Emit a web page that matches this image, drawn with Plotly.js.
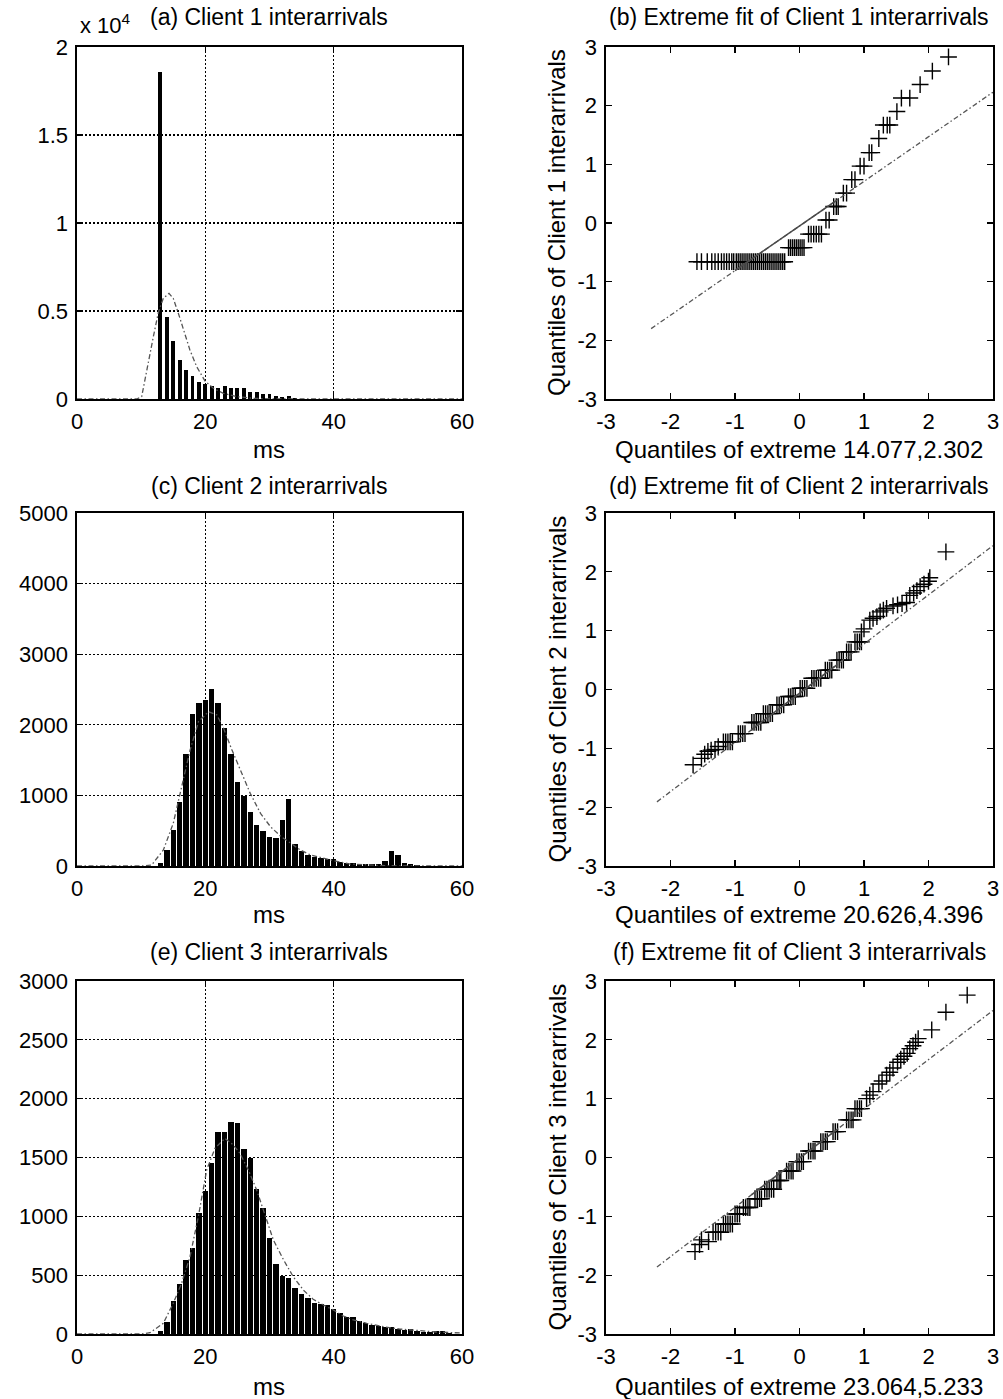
<!DOCTYPE html>
<html><head><meta charset="utf-8">
<script src="https://cdn.plot.ly/plotly-3.0.1.min.js"></script>
<style>html,body{margin:0;padding:0;background:#fff}#chart{width:1003px;height:1399px}</style>
</head><body><div id="chart"></div>
<script>
// ---------- (a) Client 1 histogram ----------
const binsA   = [13,14,15,16,17,18,19,20,21,22,23,24,25,26,27,28,29,30,31,32,33,34];
const countsA = [18580,4640,3313,2197,1648,1307,947,833,739,644,739,625,625,625,379,379,265,265,170,130,150,80];
const fitA_x  = [0,5,9.3,10.08,10.86,11.9,12.67,13.45,14.34,15.0,15.8,16.57,17.6,18.65,19.95,21.25,22.8,24.9,27.5,30,40,50,60];
const fitA_y  = [0,0,0,133,1648,3540,4905,5720,6004,5720,4867,3920,2784,1837,1023,606,322,133,38,10,0,0,0];

// ---------- (c) Client 2 histogram ----------
const binsC   = [13,14,15,16,17,18,19,20,21,22,23,24,25,26,27,28,29,30,31,32,33,34,35,36,37,38,39,40,41,42,43,44,45,46,47,48,49,50,51,52,53];
const countsC = [45,220,517,908,1584,2146,2314,2358,2507,2314,1955,1582,1192,996,772,578,500,413,390,658,942,305,210,160,130,107,95,100,60,48,38,35,30,28,35,70,210,151,40,22,12];
const fitC_x  = [0,10,11.64,13.46,15.0,16.34,17.63,18.93,20.5,21.8,22.85,24.15,25.45,27.0,28.6,30.15,31.7,33.26,34.8,36.4,38.5,40.0,42.6,45.2,48,52,60];
const fitC_y  = [0,0,14,227,604,1124,1643,2044,2186,2139,1950,1643,1360,1029,746,557,425,321,227,156,109,75,28,14,5,0,0];

// ---------- (e) Client 3 histogram ----------
const binsE   = [13,14,15,16,17,18,19,20,21,22,23,24,25,26,27,28,29,30,31,32,33,34,35,36,37,38,39,40,41,42,43,44,45,46,47,48,49,50,51,52,53,54,55,56,57,58];
const countsE = [28,105,279,427,628,727,1030,1216,1450,1720,1720,1805,1790,1569,1500,1236,1067,812,597,494,480,394,341,302,260,255,250,212,176,142,142,110,91,76,71,57,57,42,34,40,25,17,17,28,28,8];
const fitE_x  = [0,10,11.38,13.45,15.0,16.3,17.61,18.91,20.21,21.5,23.06,24.36,25.4,26.7,28.0,29.3,30.6,32.2,33.7,35.27,36.8,38.4,39.95,41.5,43.07,45.15,47.74,50.34,52.94,56.06,60];
const fitE_y  = [0,0,11,91,261,431,657,997,1394,1578,1663,1606,1535,1394,1224,1011,799,629,487,374,295,246,204,153,119,91,62,42,28,17,8];

// ---------- (b) QQ Client 1 ----------
const qqB_x = [-1.59,-1.52,-1.43,-1.36,-1.31,-1.26,-1.21,-1.17,-1.13,-1.09,-1.05,-1.02,-0.98,-0.95,-0.92,-0.89,-0.86,-0.83,-0.80,-0.77,-0.74,-0.71,-0.68,-0.65,-0.62,-0.59,-0.56,-0.53,-0.50,-0.47,-0.44,-0.41,-0.38,-0.35,-0.32,-0.29,-0.26,-0.23,
  -0.17,-0.14,-0.11,-0.08,-0.05,-0.02,0.01,0.04,0.07,
  0.14,0.18,0.22,0.26,0.30,0.34,
  0.41,0.46,
  0.53,0.57,0.60,
  0.68,0.73,
  0.81,0.86,
  0.94,1.00,
  1.08,1.12,
  1.23,
  1.30,1.36,1.40,
  1.51,
  1.58,1.71,
  1.87,
  2.06,
  2.31];
const qqB_y = [-0.66,-0.66,-0.66,-0.66,-0.66,-0.66,-0.66,-0.66,-0.66,-0.66,-0.66,-0.66,-0.66,-0.66,-0.66,-0.66,-0.66,-0.66,-0.66,-0.66,-0.66,-0.66,-0.66,-0.66,-0.66,-0.66,-0.66,-0.66,-0.66,-0.66,-0.66,-0.66,-0.66,-0.66,-0.66,-0.66,-0.66,-0.66,
  -0.42,-0.42,-0.42,-0.42,-0.42,-0.42,-0.42,-0.42,-0.42,
  -0.19,-0.19,-0.19,-0.19,-0.19,-0.19,
  0.05,0.05,
  0.28,0.28,0.28,
  0.51,0.51,
  0.74,0.74,
  0.97,0.97,
  1.20,1.20,
  1.44,
  1.67,1.67,1.67,
  1.90,
  2.13,2.13,
  2.36,
  2.59,
  2.83];
const refB_x = [-2.30, 3.0];
const refB_y = [-1.80, 2.23];
const segB_x = [-1.0, 0.58];
const segB_y = [-0.81, 0.39];

// ---------- (d) QQ Client 2 ----------
const qqD_x = [-1.65,-1.52,-1.47,-1.42,-1.37,-1.31,-1.26,
  -1.18,-1.145,-1.11,-1.075,-1.04,
  -0.95,-0.915,-0.88,-0.845,
  -0.74,-0.705,-0.67,-0.635,-0.60,
  -0.56,-0.525,-0.49,-0.455,-0.42,
  -0.35,-0.315,-0.28,-0.245,
  -0.17,-0.135,-0.10,-0.065,
  0.01,0.045,0.08,0.115,
  0.19,0.225,0.26,0.295,0.33,
  0.40,0.435,0.47,0.50,
  0.58,0.615,0.65,0.68,
  0.73,0.765,0.80,
  0.86,0.895,0.93,0.96,
  0.96,1.00,1.09,1.14,1.20,1.25,1.30,1.35,1.45,1.52,1.59,1.66,1.71,1.77,1.82,1.87,1.93,2.00,2.02,2.27];
const qqD_y = [-1.28,-1.17,-1.10,-1.05,-1.03,-1.02,-0.97,
  -0.89,-0.89,-0.89,-0.89,-0.89,
  -0.75,-0.75,-0.75,-0.75,
  -0.56,-0.56,-0.56,-0.56,-0.56,
  -0.41,-0.41,-0.41,-0.41,-0.41,
  -0.26,-0.26,-0.26,-0.26,
  -0.12,-0.12,-0.12,-0.12,
  0.02,0.02,0.02,0.02,
  0.19,0.19,0.19,0.19,0.19,
  0.33,0.33,0.33,0.33,
  0.50,0.50,0.50,0.50,
  0.64,0.64,0.64,
  0.81,0.81,0.81,0.81,
  0.98,1.03,1.18,1.21,1.24,1.32,1.35,1.38,1.42,1.44,1.46,1.48,1.60,1.64,1.68,1.75,1.79,1.84,1.90,2.34];
const refD_x = [-2.21, 3.0];
const refD_y = [-1.91, 2.445];
const segD_x = [-0.74, 0.58];
const segD_y = [-0.68, 0.42];

// ---------- (f) QQ Client 3 ----------
const qqF_x = [-1.62,-1.55,-1.52,-1.41,
  -1.34,-1.30,-1.26,-1.22,
  -1.18,-1.145,-1.11,-1.075,-1.04,
  -1.00,-0.965,-0.93,
  -0.87,-0.835,-0.80,-0.77,
  -0.69,-0.655,-0.62,-0.59,
  -0.54,-0.505,-0.47,-0.435,-0.40,
  -0.35,-0.315,-0.29,
  -0.20,-0.165,-0.13,-0.10,
  -0.04,-0.005,0.03,0.06,
  0.14,0.175,0.21,0.24,
  0.33,0.365,0.40,0.43,
  0.52,0.555,0.59,
  0.73,0.765,0.80,0.83,
  0.86,0.895,0.93,0.96,
  1.04,1.09,1.14,1.23,1.28,1.35,1.40,1.45,1.52,1.57,1.62,1.67,1.71,1.76,1.80,1.84,2.05,2.27,2.60];
const qqF_y = [-1.60,-1.48,-1.40,-1.43,
  -1.27,-1.27,-1.27,-1.27,
  -1.13,-1.13,-1.13,-1.13,-1.13,
  -0.96,-0.96,-0.96,
  -0.85,-0.85,-0.85,-0.85,
  -0.70,-0.70,-0.70,-0.70,
  -0.54,-0.54,-0.54,-0.54,-0.54,
  -0.39,-0.39,-0.39,
  -0.23,-0.23,-0.23,-0.23,
  -0.07,-0.07,-0.07,-0.07,
  0.11,0.11,0.11,0.11,
  0.27,0.27,0.27,0.27,
  0.44,0.44,0.44,
  0.64,0.64,0.64,0.64,
  0.83,0.83,0.83,0.83,
  1.00,1.06,1.12,1.25,1.30,1.40,1.45,1.52,1.62,1.67,1.72,1.77,1.85,1.90,1.96,2.02,2.17,2.47,2.76];
const refF_x = [-2.21, 3.0];
const refF_y = [-1.86, 2.50];
const segF_x = [-0.74, 0.60];
const segF_y = [-0.63, 0.49];

// ---------- text ----------
const titles = ['(a) Client 1 interarrivals','(b) Extreme fit of Client 1 interarrivals',
                '(c) Client 2 interarrivals','(d) Extreme fit of Client 2 interarrivals',
                '(e) Client 3 interarrivals','(f) Extreme fit of Client 3 interarrivals'];
const xTitles = ['ms','Quantiles of extreme 14.077,2.302','ms','Quantiles of extreme 20.626,4.396','ms','Quantiles of extreme 23.064,5.233'];
const yTitlesQQ = ['Quantiles of Client 1 interarrivals','Quantiles of Client 2 interarrivals','Quantiles of Client 3 interarrivals'];
const tickValsA = [0,5000,10000,15000,20000];
const tickTextA = ['0','0.5','1','1.5','2'];
const qqTickVals = [-3,-2,-1,0,1,2,3];
const qqTickText = ['-3','-2','-1','0','1','2','3'];

// ---------- layout geometry ----------
const W = 1003, H = 1399;
const FONT = 'Liberation Sans, Arial, Helvetica, sans-serif';
const leftX = [77/W, 462/W], rightX = [606/W, 993/W];
const rows = [[47,399],[513,866],[981,1334]];
const yDom = r => [1 - rows[r][1]/H, 1 - rows[r][0]/H];

const fitLine = {color:'#555', width:1.3, dash:'5px,2.5px,1.5px,2.5px'};
const crossMarker = {symbol:'cross-thin-open', size:12, color:'#000', line:{color:'#000', width:1.4}};

function bars(x, y, w, xa, ya){ return {type:'bar', x:x, y:y, width:w, marker:{color:'#000', line:{width:0}}, xaxis:xa, yaxis:ya}; }
function curve(x, y, xa, ya){ return {type:'scatter', mode:'lines', x:x, y:y, line:fitLine, xaxis:xa, yaxis:ya}; }
function pts(x, y, xa, ya){ return {type:'scatter', mode:'markers', x:x, y:y, marker:crossMarker, xaxis:xa, yaxis:ya}; }
function seg(x, y, xa, ya){ return {type:'scatter', mode:'lines', x:x, y:y, line:{color:'#4a4a4a', width:1.6}, xaxis:xa, yaxis:ya}; }

const data = [
  bars(binsA, countsA, 0.62, 'x', 'y'), curve(fitA_x, fitA_y, 'x', 'y'),
  pts(qqB_x, qqB_y, 'x2', 'y2'), curve(refB_x, refB_y, 'x2', 'y2'), seg(segB_x, segB_y, 'x2', 'y2'),
  bars(binsC, countsC, 0.85, 'x3', 'y3'), curve(fitC_x, fitC_y, 'x3', 'y3'),
  pts(qqD_x, qqD_y, 'x4', 'y4'), curve(refD_x, refD_y, 'x4', 'y4'), seg(segD_x, segD_y, 'x4', 'y4'),
  bars(binsE, countsE, 0.85, 'x5', 'y5'), curve(fitE_x, fitE_y, 'x5', 'y5'),
  pts(qqF_x, qqF_y, 'x6', 'y6'), curve(refF_x, refF_y, 'x6', 'y6'), seg(segF_x, segF_y, 'x6', 'y6')
];

const tickFont = {family: FONT, size: 22, color: '#000'};
function ax(domain, anchor, range, extra){
  return Object.assign({
    domain: domain, anchor: anchor, range: range, autorange:false,
    showline:true, linecolor:'#000', linewidth:1.6, mirror:'ticks',
    ticks:'inside', ticklen:6, tickwidth:1.2, tickcolor:'#000',
    zeroline:false, showgrid:false, tickfont: tickFont, fixedrange:true,
    ticklabelstandoff: 2
  }, extra || {});
}
const grid = {showgrid:true, gridcolor:'#000', gridwidth:1.2, griddash:'2px,2px'};
const qqTicks = {tickvals: qqTickVals, ticktext: qqTickText};

const layout = {
  width: W, height: H, margin:{l:0,r:0,t:0,b:0}, showlegend:false,
  paper_bgcolor:'#fff', plot_bgcolor:'#fff', bargap:0,
  font:{family: FONT, color:'#000'},
  xaxis:  ax(leftX,  'y',  [0,60], Object.assign({tickvals:[0,20,40,60]}, grid)),
  yaxis:  ax(yDom(0),'x',  [0,20000], Object.assign({tickvals:tickValsA, ticktext:tickTextA, ticklabelstandoff:3}, grid)),
  xaxis2: ax(rightX, 'y2', [-3,3], qqTicks),
  yaxis2: ax(yDom(0),'x2', [-3,3], Object.assign({ticklabelstandoff:3}, qqTicks)),
  xaxis3: ax(leftX,  'y3', [0,60], Object.assign({tickvals:[0,20,40,60]}, grid)),
  yaxis3: ax(yDom(1),'x3', [0,5000], Object.assign({dtick:1000, tick0:0, ticklabelstandoff:3}, grid)),
  xaxis4: ax(rightX, 'y4', [-3,3], qqTicks),
  yaxis4: ax(yDom(1),'x4', [-3,3], Object.assign({ticklabelstandoff:3}, qqTicks)),
  xaxis5: ax(leftX,  'y5', [0,60], Object.assign({tickvals:[0,20,40,60]}, grid)),
  yaxis5: ax(yDom(2),'x5', [0,3000], Object.assign({dtick:500, tick0:0, ticklabelstandoff:3}, grid)),
  xaxis6: ax(rightX, 'y6', [-3,3], qqTicks),
  yaxis6: ax(yDom(2),'x6', [-3,3], Object.assign({ticklabelstandoff:3}, qqTicks)),
  annotations: []
};

const titleFont = {family: FONT, size: 23, color:'#000'};
const axTitleFont = {family: FONT, size: 24, color:'#000'};
const titleY = [17, 486, 952];
const xTitleY = [449, 914, 1386];
for (let r = 0; r < 3; r++) {
  layout.annotations.push({xref:'paper', yref:'paper', x:(leftX[0]+leftX[1])/2, y:1-titleY[r]/H, xanchor:'center', yanchor:'middle', showarrow:false, text:titles[2*r], font:titleFont});
  layout.annotations.push({xref:'paper', yref:'paper', x:(rightX[0]+rightX[1])/2, y:1-titleY[r]/H, xanchor:'center', yanchor:'middle', showarrow:false, text:titles[2*r+1], font:titleFont});
  layout.annotations.push({xref:'paper', yref:'paper', x:(leftX[0]+leftX[1])/2, y:1-xTitleY[r]/H, xanchor:'center', yanchor:'middle', showarrow:false, text:xTitles[2*r], font:axTitleFont});
  layout.annotations.push({xref:'paper', yref:'paper', x:(rightX[0]+rightX[1])/2, y:1-xTitleY[r]/H, xanchor:'center', yanchor:'middle', showarrow:false, text:xTitles[2*r+1], font:axTitleFont});
  layout.annotations.push({xref:'paper', yref:'paper', x:557/W, y:1-(rows[r][0]+rows[r][1])/2/H, xanchor:'center', yanchor:'middle', textangle:-90, showarrow:false, text:yTitlesQQ[r], font:axTitleFont});
}
layout.annotations.push({xref:'paper', yref:'paper', x:78/W, y:1-24/H, xanchor:'left', yanchor:'middle', showarrow:false, text:'x 10<sup>4</sup>', font:{family: FONT, size: 22, color:'#000'}});

Plotly.newPlot('chart', data, layout, {displayModeBar:false, staticPlot:true});
</script></body></html>
